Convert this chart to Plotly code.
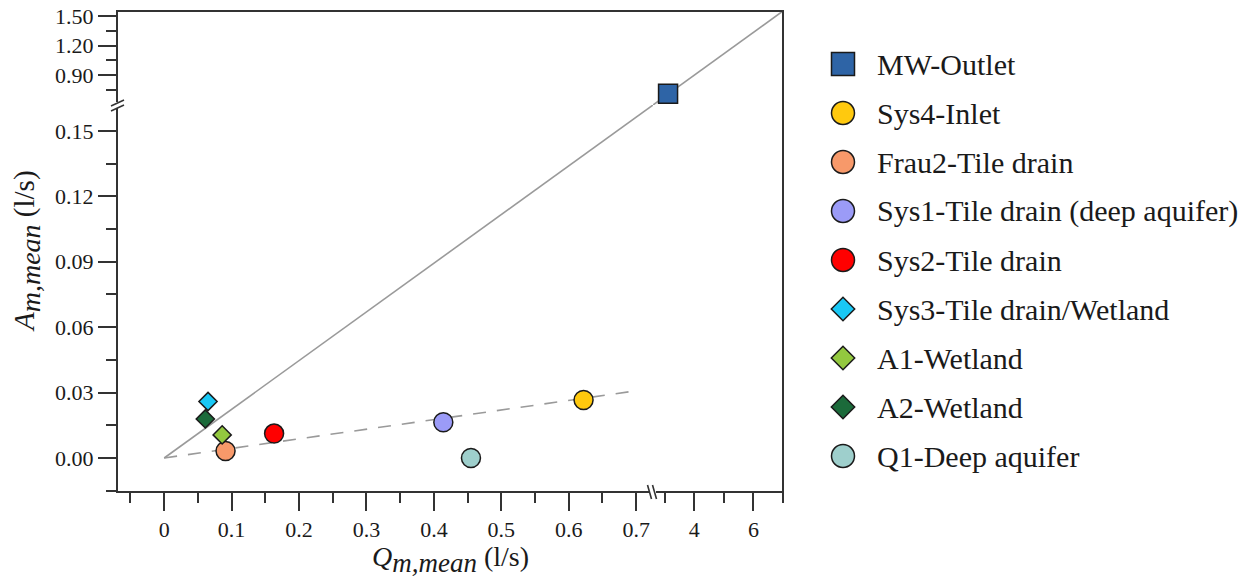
import plotly.graph_objects as go

# ---------------- data ----------------
site_names = [
    "MW-Outlet",
    "Sys4-Inlet",
    "Frau2-Tile drain",
    "Sys1-Tile drain (deep aquifer)",
    "Sys2-Tile drain",
    "Sys3-Tile drain/Wetland",
    "A1-Wetland",
    "A2-Wetland",
    "Q1-Deep aquifer",
]
q_mean = [3.11, 0.622, 0.091, 0.414, 0.163, 0.065, 0.086, 0.061, 0.455]      # l/s
a_mean = [0.713, 0.0266, 0.0032, 0.0164, 0.0112, 0.0259, 0.0106, 0.0179, 0.0000]  # l/s
marker_symbols = ["square", "circle", "circle", "circle", "circle",
                  "diamond", "diamond", "diamond", "circle"]
marker_colors = ["#2E64A6", "#FFC90E", "#F7996A", "#9B9BF7", "#FF0000",
                 "#19C8F5", "#93C83F", "#1B6A3A", "#9ECFCC"]

# solid line: drawn across both segments of the broken axes
ratio_low_q = [0.0, 0.725]
ratio_low_a = [0.0, 0.1619]
ratio_high_q = [2.6, 7.0]
ratio_high_a = [0.60, 1.55]
# dashed trend line
trend_q = [0.0, 0.70]
trend_a = [0.0, 0.0308]

# ticks of the broken axes
x_low_ticks = [0, 0.1, 0.2, 0.3, 0.4, 0.5, 0.6, 0.7]
x_low_labels = ["0", "0.1", "0.2", "0.3", "0.4", "0.5", "0.6", "0.7"]
x_low_minor = [-0.05, 0.05, 0.15, 0.25, 0.35, 0.45, 0.55, 0.65]
x_high_ticks = [4, 6]
x_high_labels = ["4", "6"]
x_high_minor = [3, 5, 7]
y_low_ticks = [0.00, 0.03, 0.06, 0.09, 0.12, 0.15]
y_low_labels = ["0.00", "0.03", "0.06", "0.09", "0.12", "0.15"]
y_low_minor = [-0.015, 0.015, 0.045, 0.075, 0.105, 0.135]
y_high_ticks = [0.90, 1.20, 1.50]
y_high_labels = ["0.90", "1.20", "1.50"]
y_high_minor = [0.75, 1.05, 1.35]

# axis segment limits
x_low_range = [-0.07, 0.725]
x_high_range = [2.6, 7.002]
y_low_range = [-0.0156, 0.1619]
y_high_range = [0.60, 1.55]
Q_SPLIT = 1.0   # sites above this discharge go into the upper segments

# ---------------- layout geometry (pixels) ----------------
W, H = 1256, 578
ML, MR, MT, MB = 117, 10, 11, 86
PW, PH = W - ML - MR, H - MT - MB
frame_right_px = 783
x_break_px = 653
y_break_px = 105
legend_left_px = 830


def px_x(p):
    return (p - ML) / PW


def px_y(p):
    return (H - MB - p) / PH


xb = px_x(x_break_px)
xr = px_x(frame_right_px)
yb = px_y(y_break_px)

FONT = "'Liberation Serif', 'Times New Roman', Times, serif"
INK = "#333333"
TEXT = "#1a1a1a"
TICK_FONT = dict(family=FONT, size=22, color=TEXT)

fig = go.Figure()

line_style = dict(color="#9a9a9a", width=1.6)
fig.add_trace(go.Scatter(x=ratio_low_q, y=ratio_low_a, mode="lines", line=line_style,
                         xaxis="x", yaxis="y", showlegend=False, hoverinfo="skip"))
fig.add_trace(go.Scatter(x=ratio_high_q, y=ratio_high_a, mode="lines", line=line_style,
                         xaxis="x2", yaxis="y2", showlegend=False, hoverinfo="skip"))
fig.add_trace(go.Scatter(x=trend_q, y=trend_a, mode="lines",
                         line=dict(color="#9a9a9a", width=1.6, dash="13px,11px"),
                         xaxis="x", yaxis="y", showlegend=False, hoverinfo="skip"))

# sampling sites
for name, q, a, sym, col in zip(site_names, q_mean, a_mean, marker_symbols, marker_colors):
    upper = q > Q_SPLIT
    size = 14 if sym == "diamond" else 19
    fig.add_trace(go.Scatter(
        x=[q], y=[a], mode="markers", name=name,
        marker=dict(symbol=sym, size=size, color=col, opacity=1,
                    line=dict(color=TEXT, width=1.5)),
        xaxis="x2" if upper else "x", yaxis="y2" if upper else "y",
        showlegend=False, cliponaxis=False,
    ))

# legend drawn in its own hidden axes
legend_rows = list(range(len(site_names)))
row0_px, row_step_px = 64, 49
fig.add_trace(go.Scatter(
    x=[13] * len(site_names), y=legend_rows, mode="markers",
    marker=dict(symbol=marker_symbols,
                size=[18 if s == "diamond" else 23 for s in marker_symbols],
                color=marker_colors, opacity=1, line=dict(color=TEXT, width=1.5)),
    xaxis="x3", yaxis="y3", showlegend=False, hoverinfo="skip", cliponaxis=False,
))
y3_top = (MT - row0_px) / row_step_px
y3_bottom = (H - MB - row0_px) / row_step_px

annotations = []
for i, name in enumerate(site_names):
    annotations.append(dict(x=45, y=i, xref="x3", yref="y3", text=name, showarrow=False,
                            xanchor="left", yanchor="middle",
                            font=dict(family=FONT, size=30, color=TEXT)))

# axis titles
annotations.append(dict(
    x=px_x(450), y=px_y(559), xref="paper", yref="paper", showarrow=False,
    xanchor="center", yanchor="middle",
    text="<i>Q</i><sub><i><span style='font-size:27px'>m,mean</span></i></sub> (l/s)",
    font=dict(family=FONT, size=28, color=TEXT)))
annotations.append(dict(
    x=px_x(27), y=px_y(251), xref="paper", yref="paper", showarrow=False,
    xanchor="center", yanchor="middle", textangle=-90,
    text="<i>A</i><sub><i><span style='font-size:28px'>m,mean</span></i></sub> (l/s)",
    font=dict(family=FONT, size=29, color=TEXT)))


def axis(domain, rng, ticks, labels, minor, anchor):
    return dict(
        domain=domain, range=rng, anchor=anchor, automargin=False,
        tickmode="array", tickvals=ticks, ticktext=labels,
        ticks="outside", ticklen=18, tickwidth=1.6, tickcolor=INK,
        minor=dict(tickmode="array", tickvals=minor, ticks="outside",
                   ticklen=10, tickwidth=1.6, tickcolor=INK),
        showline=False, showgrid=False, zeroline=False,
        tickfont=TICK_FONT, fixedrange=True,
    )


# frame and axis-break marks
shapes = [dict(type="rect", xref="paper", yref="paper", x0=0, x1=xr, y0=0, y1=1,
               line=dict(color=INK, width=2), layer="above")]
brk = dict(color=INK, width=1.6)
# break on the vertical axis
shapes.append(dict(type="rect", xref="paper", yref="paper", xsizemode="pixel", ysizemode="pixel",
                   xanchor=0, yanchor=yb, x0=-3, x1=3, y0=-3, y1=3,
                   fillcolor="white", line=dict(width=0), layer="above"))
for dy in (-4.5, 0.5):
    shapes.append(dict(type="line", xref="paper", yref="paper", xsizemode="pixel",
                       ysizemode="pixel", xanchor=0, yanchor=yb,
                       x0=-6, x1=7, y0=dy - 1.5, y1=dy + 4.5, line=brk, layer="above"))
# break on the horizontal axis
shapes.append(dict(type="rect", xref="paper", yref="paper", xsizemode="pixel", ysizemode="pixel",
                   xanchor=xb, yanchor=0, x0=-3, x1=3, y0=-3, y1=3,
                   fillcolor="white", line=dict(width=0), layer="above"))
for dx in (-4, 1):
    shapes.append(dict(type="line", xref="paper", yref="paper", xsizemode="pixel",
                       ysizemode="pixel", xanchor=xb, yanchor=0,
                       x0=dx - 1.5, x1=dx + 2.5, y0=7, y1=-7, line=brk, layer="above"))

fig.update_layout(
    width=W, height=H, autosize=False,
    margin=dict(l=ML, r=MR, t=MT, b=MB, pad=0, autoexpand=False),
    paper_bgcolor="white", plot_bgcolor="white",
    showlegend=False,
    font=dict(family=FONT, color=TEXT),
    xaxis=axis([0, xb], x_low_range, x_low_ticks, x_low_labels, x_low_minor, "y"),
    xaxis2=axis([xb, xr], x_high_range, x_high_ticks, x_high_labels, x_high_minor, "y"),
    yaxis=axis([0, yb], y_low_range, y_low_ticks, y_low_labels, y_low_minor, "x"),
    yaxis2=axis([yb, 1], y_high_range, y_high_ticks, y_high_labels, y_high_minor, "x"),
    xaxis3=dict(domain=[px_x(legend_left_px), 1], range=[0, W - MR - legend_left_px],
                visible=False, anchor="y3", fixedrange=True, automargin=False),
    yaxis3=dict(domain=[0, 1], range=[y3_bottom, y3_top], visible=False,
                anchor="x3", fixedrange=True, automargin=False),
    annotations=annotations,
    shapes=shapes,
)

fig.write_html("out.html")
